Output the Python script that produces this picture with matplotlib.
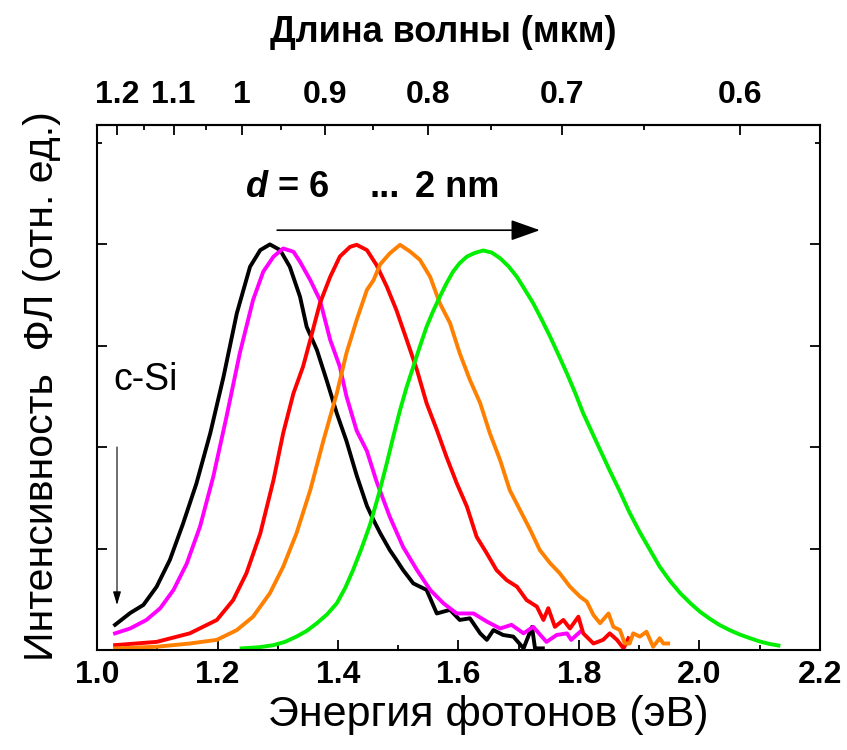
import numpy as np
import matplotlib
matplotlib.use("Agg")
import matplotlib.pyplot as plt
from matplotlib.ticker import FixedLocator, NullFormatter

plt.rcParams['font.family'] = ['Liberation Sans', 'DejaVu Sans']
plt.rcParams['mathtext.fontset'] = 'custom'
plt.rcParams['mathtext.it'] = 'Liberation Sans:italic:bold'
plt.rcParams['mathtext.rm'] = 'Liberation Sans:bold'

########## data ##########
# photon energy (eV) / normalised PL intensity
E_black = [1.030, 1.055, 1.077, 1.099, 1.121, 1.143, 1.165, 1.188, 1.210, 1.232, 1.254, 1.271,
           1.287, 1.304, 1.320, 1.337, 1.348, 1.365, 1.381, 1.398, 1.414, 1.431, 1.448, 1.459,
           1.470, 1.486, 1.497, 1.508, 1.525, 1.547, 1.564, 1.586, 1.602, 1.619, 1.636, 1.647,
           1.658, 1.674, 1.691, 1.708, 1.722, 1.727, 1.740]
I_black = [0.062, 0.091, 0.111, 0.156, 0.222, 0.312, 0.410, 0.534, 0.673, 0.829, 0.944, 0.985,
           0.999, 0.985, 0.944, 0.870, 0.796, 0.739, 0.665, 0.583, 0.515, 0.430, 0.355, 0.320,
           0.288, 0.246, 0.222, 0.197, 0.164, 0.148, 0.090, 0.099, 0.074, 0.078, 0.041, 0.025,
           0.049, 0.037, 0.033, 0.004, 0.057, 0.004, 0.004]

E_magenta = [1.030, 1.055, 1.082, 1.105, 1.127, 1.149, 1.171, 1.193, 1.215, 1.237, 1.259, 1.276,
             1.293, 1.309, 1.326, 1.337, 1.354, 1.370, 1.387, 1.403, 1.414, 1.431, 1.448, 1.464,
             1.486, 1.508, 1.531, 1.553, 1.575, 1.597, 1.625, 1.647, 1.669, 1.688, 1.708, 1.724,
             1.746, 1.763, 1.780, 1.787, 1.802]
I_magenta = [0.041, 0.053, 0.074, 0.103, 0.148, 0.213, 0.304, 0.427, 0.575, 0.731, 0.862, 0.932,
             0.969, 0.989, 0.981, 0.956, 0.911, 0.862, 0.764, 0.698, 0.625, 0.540, 0.490, 0.415,
             0.328, 0.254, 0.197, 0.148, 0.115, 0.090, 0.090, 0.070, 0.053, 0.062, 0.041, 0.057,
             0.020, 0.037, 0.041, 0.025, 0.045]

E_red = [1.030, 1.099, 1.154, 1.199, 1.226, 1.248, 1.271, 1.293, 1.309, 1.326, 1.342, 1.354,
         1.370, 1.387, 1.403, 1.420, 1.431, 1.448, 1.464, 1.481, 1.497, 1.514, 1.531, 1.547,
         1.564, 1.580, 1.597, 1.614, 1.630, 1.647, 1.663, 1.680, 1.697, 1.713, 1.730, 1.741,
         1.749, 1.760, 1.774, 1.785, 1.799, 1.807, 1.824, 1.840, 1.851, 1.863, 1.874, 1.882]
I_red = [0.012, 0.020, 0.041, 0.074, 0.123, 0.189, 0.287, 0.419, 0.534, 0.632, 0.698, 0.764,
         0.854, 0.919, 0.969, 0.993, 0.998, 0.985, 0.948, 0.895, 0.837, 0.764, 0.690, 0.608,
         0.542, 0.476, 0.411, 0.353, 0.279, 0.238, 0.197, 0.172, 0.156, 0.123, 0.107, 0.074,
         0.103, 0.057, 0.074, 0.053, 0.082, 0.041, 0.016, 0.025, 0.041, 0.025, 0.004, 0.029]

E_orange = [1.030, 1.099, 1.154, 1.199, 1.232, 1.259, 1.287, 1.309, 1.331, 1.354, 1.376, 1.398,
            1.414, 1.431, 1.448, 1.459, 1.470, 1.486, 1.503, 1.520, 1.536, 1.553, 1.569, 1.586,
            1.602, 1.619, 1.636, 1.652, 1.669, 1.685, 1.702, 1.719, 1.735, 1.752, 1.768, 1.785,
            1.802, 1.813, 1.824, 1.835, 1.849, 1.857, 1.868, 1.876, 1.884, 1.890, 1.901, 1.912,
            1.923, 1.934, 1.940, 1.948]
I_orange = [0.004, 0.008, 0.016, 0.025, 0.049, 0.082, 0.140, 0.205, 0.287, 0.394, 0.517, 0.632,
            0.731, 0.813, 0.887, 0.911, 0.950, 0.977, 0.998, 0.981, 0.961, 0.919, 0.854, 0.805,
            0.731, 0.665, 0.608, 0.534, 0.468, 0.394, 0.345, 0.296, 0.246, 0.214, 0.189, 0.156,
            0.131, 0.119, 0.086, 0.066, 0.090, 0.057, 0.049, 0.016, 0.016, 0.041, 0.033, 0.045,
            0.008, 0.029, 0.016, 0.016]

E_green = [1.240, 1.270, 1.293, 1.312, 1.331, 1.348, 1.365, 1.382, 1.398, 1.412, 1.425, 1.439,
           1.453, 1.467, 1.481, 1.492, 1.503, 1.514, 1.525, 1.536, 1.547, 1.558, 1.569, 1.580,
           1.591, 1.602, 1.614, 1.627, 1.641, 1.655, 1.669, 1.683, 1.697, 1.710, 1.724, 1.738,
           1.752, 1.766, 1.780, 1.794, 1.807, 1.821, 1.835, 1.851, 1.868, 1.884, 1.901, 1.918,
           1.934, 1.951, 1.968, 1.985, 2.001, 2.018, 2.034, 2.050, 2.067, 2.084, 2.100, 2.116,
           2.131]
I_green = [0.004, 0.007, 0.012, 0.020, 0.033, 0.047, 0.066, 0.088, 0.115, 0.153, 0.197, 0.250,
           0.308, 0.380, 0.460, 0.527, 0.591, 0.648, 0.698, 0.748, 0.796, 0.835, 0.870, 0.903,
           0.932, 0.953, 0.969, 0.978, 0.984, 0.979, 0.965, 0.945, 0.919, 0.888, 0.854, 0.814,
           0.772, 0.727, 0.681, 0.632, 0.583, 0.538, 0.493, 0.442, 0.390, 0.338, 0.290, 0.246,
           0.205, 0.170, 0.140, 0.115, 0.094, 0.076, 0.061, 0.049, 0.038, 0.029, 0.021, 0.015,
           0.011]

wl_major = [1.2, 1.1, 1.0, 0.9, 0.8, 0.7, 0.6]
wl_labels = ['1.2', '1.1', '1', '0.9', '0.8', '0.7', '0.6']
wl_minor = [1.15, 1.05, 0.95, 0.85, 0.75, 0.65]

########## plot ##########
fig = plt.figure(figsize=(8.47, 7.5), dpi=100)
ax = fig.add_axes([97/847, 100/750, 723/847, 525/750])

lw = 2.8
ax.plot(E_black, I_black, color='black', lw=lw)
ax.plot(E_magenta, I_magenta, color='#ff00ff', lw=lw)
ax.plot(E_red, I_red, color='#ff0000', lw=lw)
ax.plot(E_orange, I_orange, color='#ff8000', lw=lw)
ax.plot(E_green, I_green, color='#00ee00', lw=lw)

ax.set_xlim(1.0, 2.2)
ax.set_ylim(0, 525/406)
ax.set_xticks(np.arange(1.0, 2.21, 0.2))
ax.set_xticklabels(['%.1f' % v for v in np.arange(1.0, 2.21, 0.2)], fontsize=23, fontweight='bold')
ax.xaxis.set_minor_locator(FixedLocator(np.arange(1.1, 2.2, 0.2)))
ax.set_yticks([0, 0.25, 0.5, 0.75, 1.0])
ax.yaxis.set_minor_locator(FixedLocator([1.25]))
ax.set_yticklabels([])
ax.tick_params(which='both', direction='in', width=1.3, right=True)
ax.tick_params(which='major', length=7, pad=7)
ax.tick_params(which='minor', length=3.5)
for s in ax.spines.values():
    s.set_linewidth(1.5)

sec = ax.secondary_xaxis('top', functions=(lambda e: 1.24/np.maximum(e, 1e-6),
                                           lambda w: 1.24/np.maximum(w, 1e-6)))
sec.set_xticks(wl_major)
sec.set_xticklabels(wl_labels, fontsize=23, fontweight='bold')
sec.xaxis.set_minor_locator(FixedLocator(wl_minor))
sec.xaxis.set_minor_formatter(NullFormatter())
sec.tick_params(which='both', direction='in', width=1.3)
sec.tick_params(which='major', length=7, pad=11)
sec.tick_params(which='minor', length=3.5)
sec.spines['top'].set_linewidth(1.5)

fig.text(443/847, 1 - 33/750, 'Длина волны (мкм)', fontsize=26, fontweight='bold',
         ha='center', va='center')
fig.text(488/847, 1 - 715/750, 'Энергия фотонов (эВ)', fontsize=31,
         ha='center', va='center')
fig.text(42/847, 1 - 386/750, 'Интенсивность  ФЛ (отн. ед.)', fontsize=29.5,
         rotation=90, ha='center', va='center')

# "d = 6  ...  2 nm"
ax.text(1.2456, 1.116, r'$d$ = 6', fontsize=26, fontweight='bold', ha='left', va='baseline')
ax.text(1.4531, 1.116, '...', fontsize=26, fontweight='bold', ha='left', va='baseline')
ax.text(1.5278, 1.116, '2 nm', fontsize=26, fontweight='bold', ha='left', va='baseline')
ax.annotate('', xy=(1.735, 1.034), xytext=(1.299, 1.034),
            arrowprops=dict(arrowstyle='-|>,head_length=0.9,head_width=0.32',
                            color='black', lw=1.2, mutation_scale=20, shrinkA=0, shrinkB=0))
ax.text(1.081, 0.665, 'c-Si', fontsize=27, ha='center', va='center')
ax.annotate('', xy=(1.0332, 0.111), xytext=(1.0332, 0.50),
            arrowprops=dict(arrowstyle='-|>,head_length=0.4,head_width=0.12',
                            color='black', lw=0.8, mutation_scale=20, shrinkA=0, shrinkB=0))

fig.savefig('out.png', dpi=100)
